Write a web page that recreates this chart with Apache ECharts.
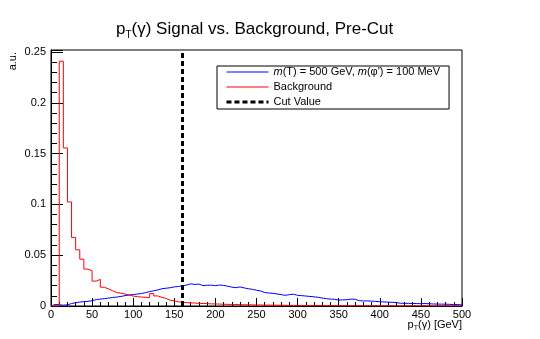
<!DOCTYPE html>
<html>
<head>
<meta charset="utf-8">
<script src="https://cdn.jsdelivr.net/npm/echarts@6/dist/echarts.min.js"></script>
<style>
  html, body { margin: 0; padding: 0; background: #fff; }
  #chart { width: 540px; height: 339px; }
</style>
</head>
<body>
<div id="chart"></div>
<script>
// histogram binning (GeV)
var binWidth = 5;
var xMin = 0, xMax = 500, xStep = 50;
var yMin = 0, yMax = 0.252, yStep = 0.05;
var cutValue = 160;

var seriesNames = ['signal', 'Background', 'Cut Value'];
var seriesColors = ['#0000ff', '#ff0000', '#000000'];

// m(T) = 500 GeV, m(phi') = 100 MeV, one value per 5 GeV bin
var signal = [
  0.0015, 0.0012, 0.0008, 0.0012, 0.0024, 0.0032, 0.0038, 0.0044, 0.0046, 0.0052,
  0.0063, 0.0068, 0.0072, 0.0078, 0.0084, 0.0088, 0.0094, 0.0102, 0.0108, 0.0113,
  0.0118, 0.0122, 0.0132, 0.0142, 0.0150, 0.0158, 0.0170, 0.0175, 0.0180, 0.0188,
  0.0192, 0.0200, 0.0206, 0.0218, 0.0212, 0.0216, 0.0200, 0.0204, 0.0205, 0.0200,
  0.0206, 0.0203, 0.0195, 0.0186, 0.0180, 0.0188, 0.0178, 0.0170, 0.0164, 0.0155,
  0.0148, 0.0132, 0.0128, 0.0125, 0.0118, 0.0112, 0.0105, 0.0112, 0.0116, 0.0105,
  0.0102, 0.0098, 0.0094, 0.0090, 0.0086, 0.0078, 0.0072, 0.0068, 0.0066, 0.0058,
  0.0060, 0.0062, 0.0068, 0.0066, 0.0052, 0.0050, 0.0050, 0.0048, 0.0045, 0.0042,
  0.0040, 0.0038, 0.0036, 0.0034, 0.0027, 0.0026, 0.0026, 0.0025, 0.0024, 0.0023,
  0.0024, 0.0022, 0.0020, 0.0019, 0.0018, 0.0018, 0.0016, 0.0015, 0.0014, 0.0010
];

var background = [
  0, 0, 0.241, 0.1556, 0.1024, 0.0675, 0.0553, 0.0461, 0.0363, 0.0346,
  0.0245, 0.0262, 0.0185, 0.0168, 0.0150, 0.0132, 0.0126, 0.0118, 0.0108, 0.0098,
  0.0092, 0.0088, 0.0086, 0.0082, 0.0122, 0.0099, 0.0085, 0.0074, 0.0056, 0.0050,
  0.0041, 0.0037, 0.0033, 0.0031, 0.0029, 0.0026, 0.0025, 0.0023, 0.0021, 0.0020,
  0.0019, 0.0017, 0.0016, 0.0015, 0.0014, 0.0013, 0.0012, 0.0012, 0.0011, 0.0010,
  0.0010, 0.0009, 0.0009, 0.0008, 0.0008, 0.0007, 0.0007, 0.0006, 0.0006, 0.0006,
  0.0005, 0.0005, 0.0004, 0.0005, 0.0004, 0.0004, 0.0003, 0.0004, 0.0003, 0.0003,
  0.0003, 0.0003, 0.0002, 0.0003, 0.0002, 0.0002, 0.0002, 0.0002, 0.0002, 0.0002,
  0.0002, 0.0001, 0.0002, 0.0001, 0.0001, 0.0002, 0.0001, 0.0001, 0.0001, 0.0001,
  0.0001, 0.0001, 0.0001, 0.0001, 0.0001, 0.0001, 0.0001, 0.0001, 0.0001, 0.0001
];

var font = 'Liberation Sans';

// bin contents -> outline points for a step line
function toSteps(vals) {
  var pts = [[xMin, 0]];
  vals.forEach(function (v, i) { pts.push([xMin + i * binWidth, v]); });
  var end = xMin + vals.length * binWidth;
  pts.push([end, vals[vals.length - 1]]);
  pts.push([end, 0]);
  return pts;
}

var myChart = echarts.init(document.getElementById('chart'), null, { renderer: 'canvas' });

var option = {
  animation: false,
  backgroundColor: '#fff',
  color: seriesColors,
  title: {
    text: '{n|p}{s|T}{n|(γ) Signal vs. Background, Pre-Cut}',
    left: 111,
    top: 13,
    textStyle: {
      fontWeight: 'normal',
      rich: {
        n: { fontFamily: font, fontSize: 17, fontWeight: 'normal', color: '#000' },
        s: { fontFamily: font, fontSize: 10, fontWeight: 'normal', color: '#000', padding: [12, 0, 0, 0] }
      }
    }
  },
  grid: {
    left: 51, right: 78, top: 50, bottom: 33,
    show: true, borderColor: '#000', borderWidth: 1, backgroundColor: 'transparent'
  },
  legend: {
    orient: 'vertical',
    left: 217, top: 66,
    padding: [0, 9, 1, 8],
    itemWidth: 42, itemHeight: 12, itemGap: 3,
    backgroundColor: '#fff', borderColor: '#000', borderWidth: 1, borderRadius: 0,
    data: seriesNames.map(function (n, i) {
      return { name: n, lineStyle: { color: seriesColors[i] } };
    }),
    itemStyle: { opacity: 0 },
    lineStyle: { width: 'inherit' },
    formatter: function (name) {
      if (name === 'signal') return '{i|m}(T) = 500 GeV, {i|m}(φ\') = 100 MeV';
      return name;
    },
    textStyle: {
      fontFamily: font, fontSize: 11, color: '#000', lineHeight: 12,
      rich: { i: { fontFamily: font, fontSize: 11, fontStyle: 'italic', color: '#000' } }
    }
  },
  xAxis: {
    type: 'value', min: xMin, max: xMax, interval: xStep,
    axisLine: { show: true, lineStyle: { color: '#000', width: 1 } },
    axisTick: { show: true, inside: true, length: 8, lineStyle: { color: '#000' } },
    minorTick: { show: true, splitNumber: 5, length: 4, lineStyle: { color: '#000' } },
    splitLine: { show: false },
    axisLabel: { fontFamily: font, fontSize: 11, color: '#000', margin: 3 }
  },
  yAxis: {
    type: 'value', min: yMin, max: yMax, interval: yStep,
    axisLine: { show: true, lineStyle: { color: '#000', width: 1 } },
    axisTick: { show: true, inside: true, length: 12, lineStyle: { color: '#000' } },
    minorTick: { show: true, splitNumber: 5, length: 6, lineStyle: { color: '#000' } },
    splitLine: { show: false },
    axisLabel: { fontFamily: font, fontSize: 11, color: '#000', margin: 5, showMaxLabel: false }
  },
  graphic: [
    {
      type: 'text', x: 13, y: 52, rotation: Math.PI / 2,
      style: { text: 'a.u.', fontFamily: font, fontSize: 11, fill: '#000', align: 'right', verticalAlign: 'middle' }
    },
    {
      type: 'text', x: 462, y: 325,
      style: {
        text: '{n|p}{s|T}{n|(γ) [GeV]}', align: 'right', verticalAlign: 'middle',
        rich: {
          n: { fontFamily: font, fontSize: 11, fill: '#000' },
          s: { fontFamily: font, fontSize: 7, fill: '#000', padding: [7, 0, 0, 0] }
        }
      }
    }
  ],
  series: [
    {
      name: 'signal', type: 'line', step: 'end', symbol: 'none',
      data: toSteps(signal),
      lineStyle: { color: seriesColors[0], width: 1 }, itemStyle: { color: seriesColors[0] }
    },
    {
      name: 'Background', type: 'line', step: 'end', symbol: 'none',
      data: toSteps(background),
      lineStyle: { color: seriesColors[1], width: 1 }, itemStyle: { color: seriesColors[1] }
    },
    {
      name: 'Cut Value', type: 'line', symbol: 'none',
      data: [[cutValue, yMin], [cutValue, yMax]],
      lineStyle: { color: seriesColors[2], width: 3, type: [5, 3] }, itemStyle: { color: seriesColors[2] }
    }
  ]
};

option && myChart.setOption(option);
</script>
</body>
</html>
